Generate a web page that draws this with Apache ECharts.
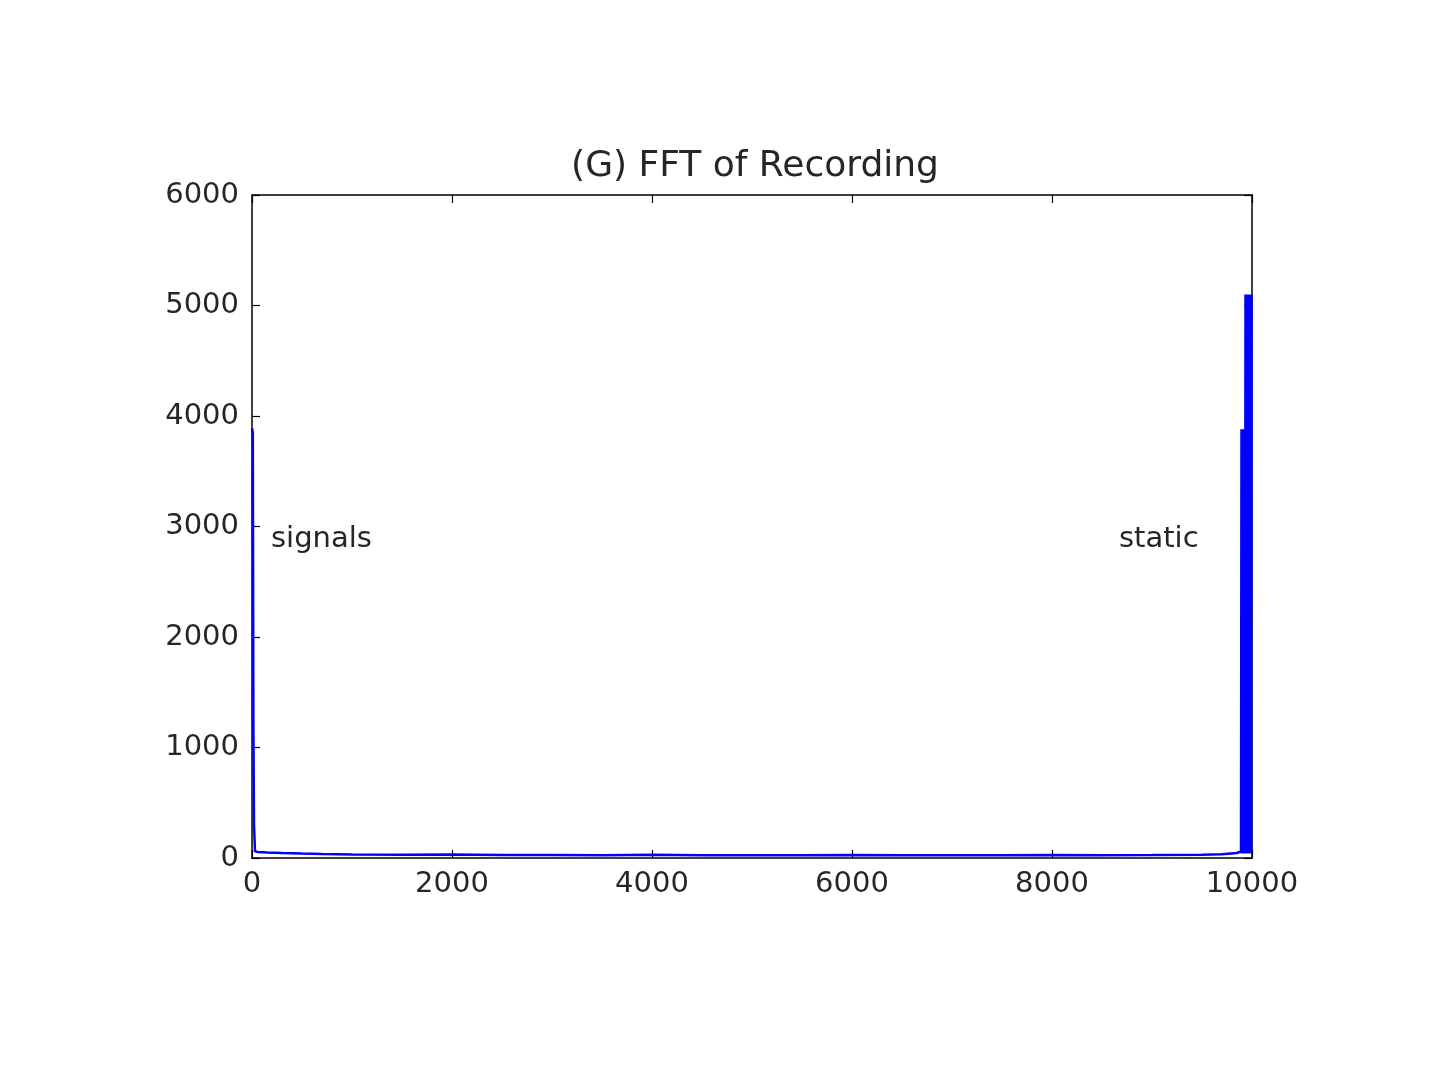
<!DOCTYPE html>
<html>
<head>
<meta charset="utf-8">
<script src="https://cdn.jsdelivr.net/npm/echarts@6/dist/echarts.min.js"></script>
<style>html,body{margin:0;padding:0;background:#fff}#c{width:1440px;height:1080px}</style>
</head>
<body>
<div id="c"></div>
<script>
// Frequency bins (x) and FFT magnitudes (y)
var freqX = [0, 8, 14, 20, 30, 60, 150, 300, 500, 700, 1000, 1500, 2000, 2500, 3000, 3500, 4000, 4500, 5000, 5500, 6000, 6500, 7000, 7500, 8000, 8500, 9000, 9500, 9700, 9850, 9890,
  9895, 9900, 9905, 9910, 9915, 9920, 9925, 9930, 9935, 9940, 9945, 9950, 9955, 9960, 9965, 9970, 9975, 9980, 9985, 9990, 9995, 10000];
var magnitude = [3890, 3850, 1200, 300, 60, 55, 50, 45, 40, 36, 32, 30, 31, 27, 28, 25, 30, 26, 25, 24, 27, 25, 26, 24, 28, 25, 27, 30, 35, 45, 60,
  3880, 40, 3880, 40, 3880, 40, 3880, 40, 5100, 40, 5100, 40, 5100, 40, 5100, 40, 5100, 40, 5100, 40, 5100, 5100];
var xTicks = [0, 2000, 4000, 6000, 8000, 10000];
var yTicks = [0, 1000, 2000, 3000, 4000, 5000, 6000];
var annotationText = ['signals', 'static'];
var annotationX = [190, 8670];
var annotationY = [2880, 2880];

var lineData = freqX.map(function (x, i) { return [x, magnitude[i]]; });
var annData = annotationText.map(function (t, i) { return { value: [annotationX[i], annotationY[i]], name: t }; });

var txt = '#262626';
var font = 'DejaVu Sans';
var axisLine = { show: true, onZero: false, lineStyle: { color: '#000', width: 1.5 } };
var tickIn = { show: true, inside: true, length: 8, lineStyle: { color: '#000', width: 1.2 } };
var plain = function (v) { return String(v); };

var chart = echarts.init(document.getElementById('c'), null, { renderer: 'canvas' });
chart.setOption({
  backgroundColor: '#fff',
  animation: false,
  title: {
    text: '(G) FFT of Recording',
    left: 750, top: 144, textAlign: 'center',
    textStyle: { fontFamily: font, fontSize: 36, fontWeight: 'normal', color: txt }
  },
  grid: { left: 252, right: 188, top: 195, bottom: 222, containLabel: false },
  xAxis: [{
    type: 'value', min: xTicks[0], max: xTicks[xTicks.length - 1], interval: 2000,
    position: 'bottom', axisLine: axisLine, axisTick: tickIn, splitLine: { show: false },
    axisLabel: { fontFamily: font, fontSize: 29, color: txt, margin: 12, formatter: plain }
  }, {
    type: 'value', min: xTicks[0], max: xTicks[xTicks.length - 1], interval: 2000,
    position: 'top', axisLine: axisLine, axisTick: tickIn, splitLine: { show: false },
    axisLabel: { show: false }
  }],
  yAxis: [{
    type: 'value', min: yTicks[0], max: yTicks[yTicks.length - 1], interval: 1000,
    position: 'left', axisLine: axisLine, axisTick: tickIn, splitLine: { show: false },
    axisLabel: { fontFamily: font, fontSize: 29, color: txt, margin: 13, formatter: plain }
  }, {
    type: 'value', min: yTicks[0], max: yTicks[yTicks.length - 1], interval: 1000,
    position: 'right', axisLine: axisLine, axisTick: tickIn, splitLine: { show: false },
    axisLabel: { show: false }
  }],
  series: [{
    type: 'line', data: lineData, showSymbol: false, symbol: 'none',
    lineStyle: { color: '#0000ff', width: 2.5 }, z: 3
  }, {
    type: 'scatter', data: annData, symbolSize: 0, z: 4,
    itemStyle: { opacity: 1 },
    label: {
      show: true, position: 'right', distance: 0, formatter: '{b}',
      fontFamily: font, fontSize: 29, color: txt, opacity: 1
    }
  }]
});
</script>
</body>
</html>
